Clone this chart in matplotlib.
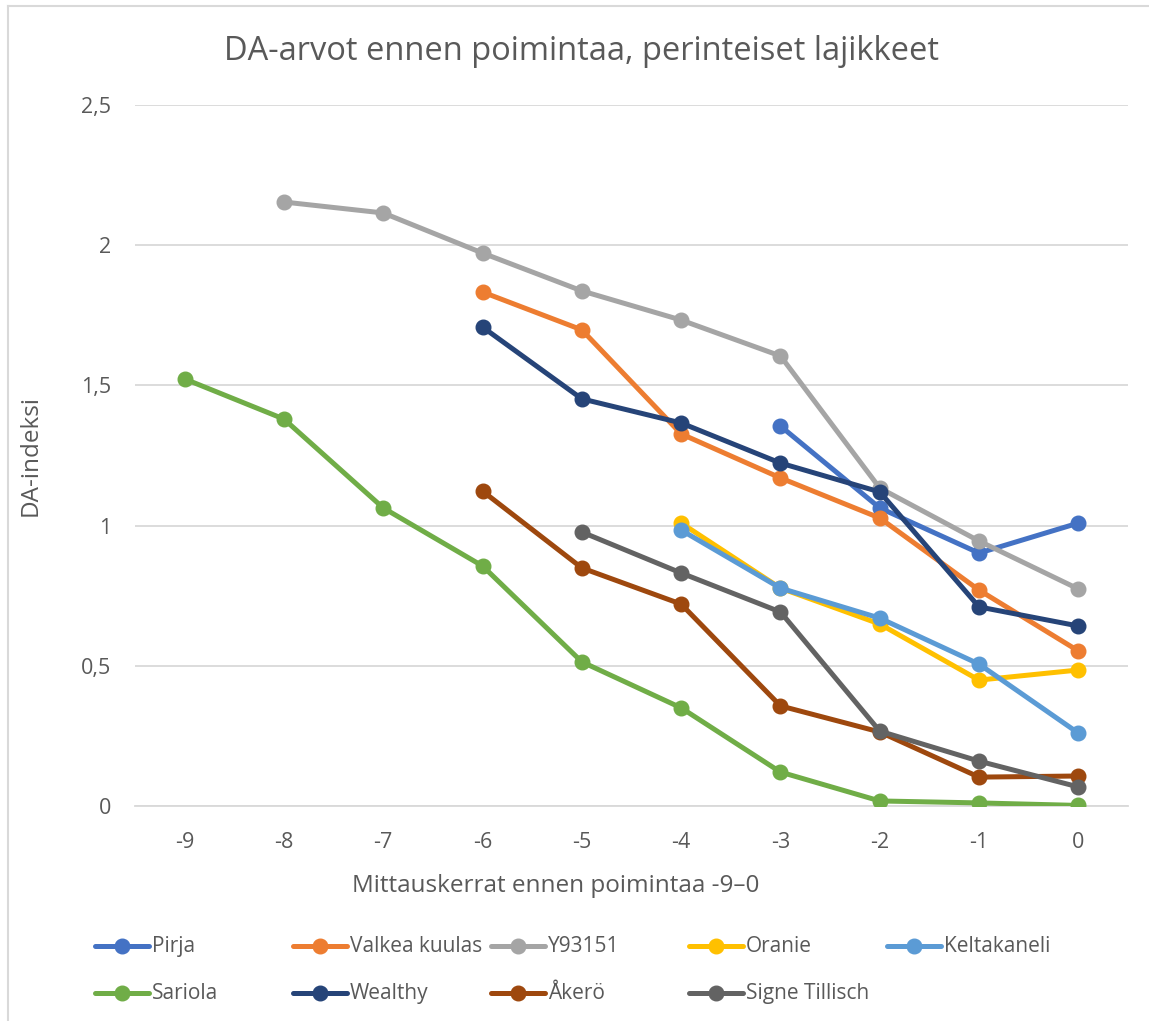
import matplotlib
matplotlib.use('Agg')
import matplotlib.pyplot as plt
from matplotlib.lines import Line2D
from matplotlib.ticker import FuncFormatter

plt.rcParams['axes.unicode_minus'] = False

# measurement rounds before picking
x_vals = [-9, -8, -7, -6, -5, -4, -3, -2, -1, 0]

# DA index per variety, aligned to x_vals (None = no measurement)
pirja = [None, None, None, None, None, None, 1.355, 1.063, 0.902, 1.009]
valkea_kuulas = [None, None, None, 1.833, 1.698, 1.327, 1.170, 1.027, 0.770, 0.553]
y93151 = [None, 2.154, 2.115, 1.972, 1.837, 1.733, 1.605, 1.134, 0.945, 0.774]
oranie = [None, None, None, None, None, 1.009, 0.777, 0.649, 0.449, 0.485]
keltakaneli = [None, None, None, None, None, 0.984, 0.777, 0.670, 0.506, 0.260]
sariola = [1.523, 1.380, 1.063, 0.856, 0.514, 0.350, 0.121, 0.018, 0.011, 0.002]
wealthy = [None, None, None, 1.708, 1.452, 1.366, 1.223, 1.120, 0.710, 0.642]
akero = [None, None, None, 1.123, 0.849, 0.720, 0.357, 0.264, 0.103, 0.107]
signe_tillisch = [None, None, None, None, 0.977, 0.831, 0.692, 0.267, 0.160, 0.068]

labels = ['Pirja', 'Valkea kuulas', 'Y93151', 'Oranie', 'Keltakaneli',
          'Sariola', 'Wealthy', 'Åkerö', 'Signe Tillisch']
series = [pirja, valkea_kuulas, y93151, oranie, keltakaneli,
          sariola, wealthy, akero, signe_tillisch]
colors = ['#4472C4', '#ED7D31', '#A5A5A5', '#FFC000', '#5B9BD5',
          '#70AD47', '#264478', '#9E480E', '#636363']

TXT = '#595959'
FONT = ['Open Sans', 'DejaVu Sans']
LEG_FONT = ['Liberation Sans Narrow', 'Open Sans', 'DejaVu Sans']
LW = 3.6
MS = 10.5

W, H = 1149, 1021
fig = plt.figure(figsize=(W / 100, H / 100), dpi=100)
ax = fig.add_axes([135 / W, 1 - 806 / H, (1128 - 135) / W, (806 - 105) / H])

# draw order: later series on top, as in the reference
for vals, col in zip(series, colors):
    xs = [x for x, v in zip(x_vals, vals) if v is not None]
    ys = [v for v in vals if v is not None]
    ax.plot(xs, ys, color=col, lw=LW, marker='o', ms=MS,
            solid_capstyle='round', zorder=3)

ax.set_xlim(-9.5, 0.5)
ax.set_ylim(0, 2.5)
ax.set_xticks(x_vals)
ax.set_yticks([0, 0.5, 1, 1.5, 2, 2.5])
ax.yaxis.set_major_formatter(FuncFormatter(lambda v, p: ('%g' % v).replace('.', ',')))
ax.grid(axis='y', color='#D9D9D9', lw=1.3)
ax.set_axisbelow(True)
for s in ['top', 'right', 'left']:
    ax.spines[s].set_visible(False)
ax.spines['bottom'].set_color('#D9D9D9')
ax.spines['bottom'].set_linewidth(1.3)
ax.tick_params(length=0, colors=TXT, labelsize=15.5, pad=19)
ax.tick_params(axis='y', pad=17)
for lab in ax.get_xticklabels() + ax.get_yticklabels():
    lab.set_family(FONT)

fig.text(582 / W, 1 - 52 / H, 'DA-arvot ennen poimintaa, perinteiset lajikkeet',
         ha='center', va='center', fontsize=23.5, color=TXT, family=FONT)
fig.text(31 / W, 1 - 456 / H, 'DA-indeksi', rotation=90, ha='center', va='center',
         fontsize=17.5, color=TXT, family=FONT)
fig.text(556 / W, 1 - 886 / H, 'Mittauskerrat ennen poimintaa -9–0',
         ha='center', va='center', fontsize=17.5, color=TXT, family=FONT)

# legend laid out in a fixed grid like the original
col_x = [95, 293, 491, 689, 887]
row_y = [946, 993]
for i, (lab, col) in enumerate(zip(labels, colors)):
    r, c = divmod(i, 5)
    x0, y0 = col_x[c], row_y[r]
    fig.add_artist(Line2D([x0 / W, (x0 + 54) / W], [1 - y0 / H, 1 - y0 / H],
                          color=col, lw=LW, solid_capstyle='round'))
    fig.add_artist(Line2D([(x0 + 27) / W], [1 - y0 / H], color=col,
                          marker='o', ms=MS))
    fig.text((x0 + 57) / W, 1 - y0 / H, lab, ha='left', va='center',
             fontsize=15, color=TXT, family=LEG_FONT)

# chart frame (screenshot shows only its left and top edges)
fig.add_artist(Line2D([8 / W, 8 / W], [0, 1 - 6 / H], color='#D9D9D9', lw=1.5))
fig.add_artist(Line2D([8 / W, 1], [1 - 6 / H, 1 - 6 / H], color='#D9D9D9', lw=1.5))

fig.savefig('out.png', dpi=100, facecolor='white')
